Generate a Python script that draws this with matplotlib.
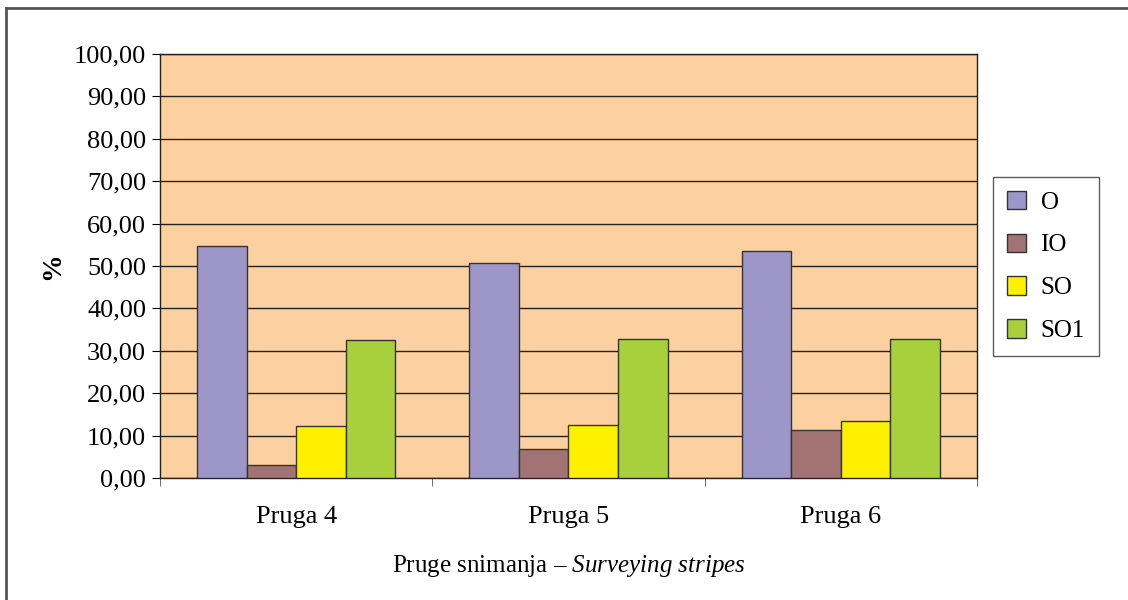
import numpy as np
import matplotlib
matplotlib.use("Agg")
import matplotlib.pyplot as plt
from matplotlib.lines import Line2D

plt.rcParams['font.family'] = ['Liberation Serif', 'DejaVu Serif']
plt.rcParams['mathtext.fontset'] = 'custom'
plt.rcParams['mathtext.rm'] = 'Liberation Serif'
plt.rcParams['mathtext.it'] = 'Liberation Serif:italic'

categories = ['Pruga 4', 'Pruga 5', 'Pruga 6']
series = ['O', 'IO', 'SO', 'SO1']
values_O = [54.7, 50.6, 53.5]
values_IO = [3.0, 6.9, 11.4]
values_SO = [12.2, 12.4, 13.4]
values_SO1 = [32.6, 32.9, 32.7]
colors = ['#9d96c8', '#a37373', '#fff000', '#a8cf3c']

data = [values_O, values_IO, values_SO, values_SO1]

fig = plt.figure(figsize=(11.28, 6), dpi=100)
ax = fig.add_axes([0.1418, 0.2033, 0.7243, 0.7067])
ax.set_facecolor('#fdd19f')

x = np.arange(len(categories))
w = 0.182
for i, (name, vals, c) in enumerate(zip(series, data, colors)):
    ax.bar(x + (i - 1.5) * w, vals, width=w, color=c, edgecolor='#333333',
           linewidth=1.0, label=name, zorder=3)

ax.set_xlim(-0.5, 2.5)
ax.set_ylim(0, 100)
ax.set_yticks(np.arange(0, 101, 10))
ax.set_yticklabels([f'{v:.2f}'.replace('.', ',') for v in np.arange(0, 101, 10)])
ax.yaxis.grid(True, color='#222222', linewidth=1.0, zorder=0)
ax.set_axisbelow(True)

ax.set_xticks(x)
ax.set_xticklabels(categories)
ax.set_xticks([-0.5, 0.5, 1.5, 2.5], minor=True)
ax.tick_params(axis='x', which='major', length=0, pad=20, labelsize=19)
ax.tick_params(axis='x', which='minor', length=6, direction='out', color='#555555')
ax.tick_params(axis='y', length=6, direction='out', labelsize=19, pad=4)

for s in ax.spines.values():
    s.set_color('#222222')
    s.set_linewidth(1.0)

ax.set_ylabel('%', fontsize=20, fontweight='bold', labelpad=6)
ax.set_xlabel('Pruge snimanja – $\\mathit{Surveying\\ stripes}$', fontsize=18, labelpad=18)

leg = ax.legend(loc='upper left', bbox_to_anchor=(993 / 1128, 1 - 177 / 600),
                bbox_transform=fig.transFigure, fontsize=18, frameon=True,
                fancybox=False, edgecolor='#333333', labelspacing=0.8,
                handlelength=0.75, handleheight=0.75, borderpad=0.55,
                handletextpad=0.6, borderaxespad=0)
leg.get_frame().set_linewidth(1.0)

# outer frame (left and top edges visible)
fig.add_artist(Line2D([6 / 1128, 6 / 1128], [0, 1 - 8 / 600], transform=fig.transFigure,
                      color='#555555', linewidth=2))
fig.add_artist(Line2D([6 / 1128, 1], [1 - 8 / 600, 1 - 8 / 600], transform=fig.transFigure,
                      color='#555555', linewidth=2))

fig.savefig('out.png', dpi=100)
